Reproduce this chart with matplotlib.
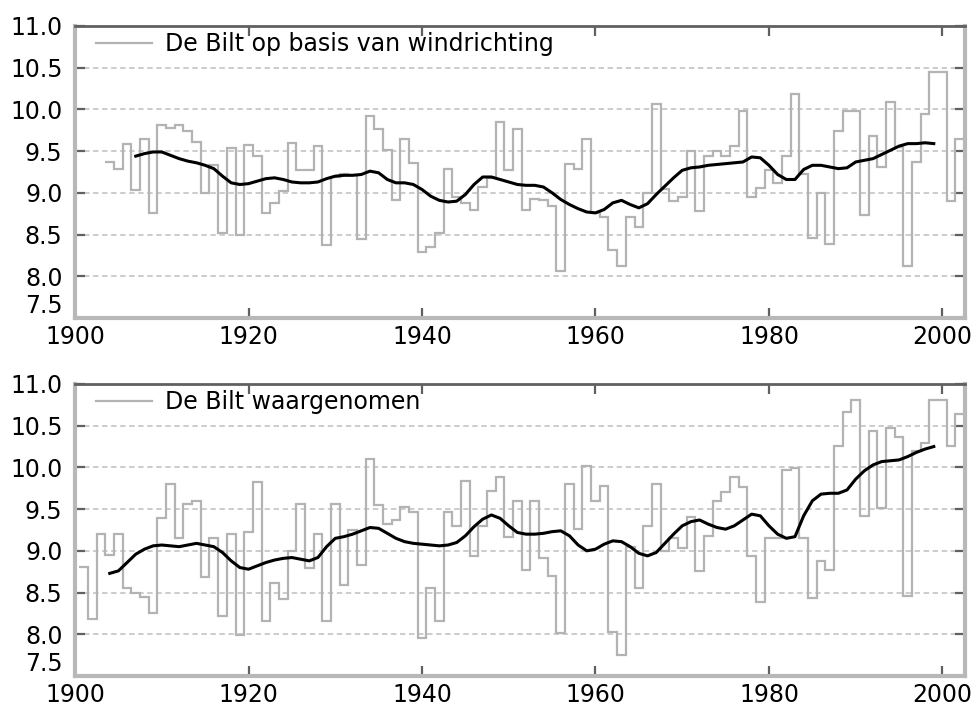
import matplotlib
matplotlib.use("Agg")
import matplotlib.pyplot as plt
from matplotlib.lines import Line2D
import numpy as np

# --- data (annual mean temperature De Bilt, degC) ---
years_wind = np.arange(1904, 2003)
temp_wind = [
    9.37, 9.28, 9.58, 9.04, 9.64, 8.76, 9.81, 9.78, 9.81, 9.74,   # 1904-1913
    9.61, 9.00, 9.33, 8.52, 9.54, 8.50, 9.57, 9.44, 8.76, 8.88,   # 1914-1923
    9.02, 9.60, 9.27, 9.27, 9.56, 8.37, 9.19, 9.22, 9.21, 8.45,   # 1924-1933
    9.92, 9.76, 9.51, 8.92, 9.64, 9.36, 8.29, 8.35, 8.52, 9.28,   # 1934-1943
    8.95, 8.88, 8.79, 9.07, 9.18, 9.85, 9.27, 9.77, 8.79, 8.93,   # 1944-1953
    8.91, 8.84, 8.06, 9.35, 9.28, 9.64, 8.76, 8.71, 8.31, 8.12,   # 1954-1963
    8.71, 8.59, 9.00, 10.06, 9.05, 8.90, 8.95, 9.50, 8.78, 9.44,  # 1964-1973
    9.50, 9.44, 9.56, 9.98, 8.95, 9.06, 9.27, 9.12, 9.44, 10.18,  # 1974-1983
    9.22, 8.46, 9.00, 8.39, 9.74, 9.98, 9.98, 8.73, 9.68, 9.31,   # 1984-1993
    10.09, 9.55, 8.12, 9.37, 9.95, 10.45, 10.45, 8.90, 9.64,      # 1994-2002
]
smooth_years_wind = np.arange(1907, 2000)
smooth_wind = [
    9.44, 9.47, 9.49, 9.49, 9.45, 9.41, 9.38, 9.36, 9.33, 9.29,   # 1907-1916
    9.20, 9.12, 9.10, 9.11, 9.14, 9.17, 9.18, 9.16, 9.13, 9.12,   # 1917-1926
    9.12, 9.13, 9.17, 9.20, 9.21, 9.21, 9.22, 9.26, 9.24, 9.16,   # 1927-1936
    9.12, 9.12, 9.10, 9.04, 8.96, 8.91, 8.89, 8.90, 8.98, 9.10,   # 1937-1946
    9.19, 9.19, 9.16, 9.13, 9.10, 9.09, 9.09, 9.07, 9.00, 8.92,   # 1947-1956
    8.86, 8.81, 8.77, 8.76, 8.80, 8.88, 8.91, 8.86, 8.82, 8.87,   # 1957-1966
    8.98, 9.08, 9.18, 9.27, 9.30, 9.31, 9.33, 9.34, 9.35, 9.36,   # 1967-1976
    9.37, 9.43, 9.42, 9.33, 9.22, 9.16, 9.16, 9.28, 9.33, 9.33,   # 1977-1986
    9.31, 9.29, 9.30, 9.37, 9.39, 9.41, 9.46, 9.51, 9.56, 9.59,   # 1987-1996
    9.59, 9.60, 9.59,                                             # 1997-1999
]

years_obs = np.arange(1901, 2003)
temp_obs = [
    8.81, 8.18, 9.20, 8.95, 9.20, 8.55, 8.50, 8.45, 8.25,         # 1901-1909
    9.39, 9.80, 9.15, 9.56, 9.60, 8.69, 9.16, 8.22, 9.20, 7.99,   # 1910-1919
    9.22, 9.82, 8.16, 8.62, 8.42, 9.00, 9.56, 8.80, 9.20, 8.16,   # 1920-1929
    9.56, 8.59, 9.25, 8.83, 10.10, 9.55, 9.32, 9.37, 9.53, 9.46,  # 1930-1939
    7.95, 8.55, 8.16, 9.47, 9.30, 9.84, 8.94, 9.30, 9.72, 9.88,   # 1940-1949
    9.17, 9.60, 8.77, 9.60, 8.92, 8.70, 8.01, 9.80, 9.26, 10.02,  # 1950-1959
    9.60, 9.78, 8.03, 7.75, 9.05, 8.55, 9.30, 9.80, 9.00, 9.15,   # 1960-1969
    9.04, 9.40, 8.76, 9.18, 9.60, 9.70, 9.89, 9.76, 8.94, 8.39,   # 1970-1979
    9.15, 9.15, 9.97, 9.99, 9.15, 8.43, 8.88, 8.77, 10.26, 10.67, # 1980-1989
    10.81, 9.42, 10.44, 9.51, 10.47, 10.37, 8.46, 10.20, 10.29, 10.81,  # 1990-1999
    10.81, 10.26, 10.64,                                          # 2000-2002
]
smooth_years_obs = np.arange(1904, 2000)
smooth_obs = [
    8.73, 8.76, 8.86, 8.96, 9.02, 9.06,                           # 1904-1909
    9.07, 9.06, 9.05, 9.07, 9.09, 9.07, 9.05, 8.98, 8.88, 8.80,   # 1910-1919
    8.78, 8.82, 8.86, 8.89, 8.91, 8.92, 8.90, 8.88, 8.92, 9.05,   # 1920-1929
    9.15, 9.17, 9.20, 9.24, 9.28, 9.27, 9.21, 9.15, 9.11, 9.09,   # 1930-1939
    9.08, 9.07, 9.06, 9.07, 9.10, 9.18, 9.29, 9.38, 9.43, 9.39,   # 1940-1949
    9.30, 9.22, 9.20, 9.20, 9.21, 9.23, 9.24, 9.18, 9.07, 9.00,   # 1950-1959
    9.02, 9.08, 9.12, 9.11, 9.05, 8.97, 8.94, 8.98, 9.09, 9.20,   # 1960-1969
    9.30, 9.35, 9.37, 9.32, 9.28, 9.26, 9.30, 9.37, 9.44, 9.42,   # 1970-1979
    9.30, 9.20, 9.15, 9.17, 9.42, 9.60, 9.68, 9.69, 9.69, 9.73,   # 1980-1989
    9.86, 9.96, 10.03, 10.07, 10.08, 10.09, 10.13, 10.18, 10.22, 10.25,  # 1990-1999
]

labels = ["De Bilt op basis van windrichting", "De Bilt waargenomen"]
xticks = np.arange(1900, 2001, 20)
yticks = np.arange(7.5, 11.01, 0.5)

plt.rcParams["font.family"] = "DejaVu Sans"
plt.rcParams["font.size"] = 17

fig = plt.figure(figsize=(9.72, 7.06), dpi=100)
ax_top = fig.add_axes([0.0772, 0.5496, 0.9156, 0.4136])
ax_bot = fig.add_axes([0.0772, 0.0425, 0.9156, 0.4136])

panels = [
    (ax_top, years_wind, temp_wind, smooth_years_wind, smooth_wind, labels[0]),
    (ax_bot, years_obs, temp_obs, smooth_years_obs, smooth_obs, labels[1]),
]

for ax, yrs, vals, syrs, svals, lab in panels:
    edges = np.append(yrs - 0.5, yrs[-1] + 0.5)
    ax.stairs(vals, edges, baseline=None, color="#b3b3b3", lw=1.6, zorder=2)
    ax.plot(syrs, svals, color="black", lw=2.2, zorder=3)

    ax.set_xlim(1900, 2002.6)
    ax.set_ylim(7.5, 11.0)
    ax.set_xticks(xticks)
    ax.set_yticks(yticks)
    ax.set_yticklabels([f"{v:.1f}" for v in yticks])
    for y in yticks[1:-1]:
        ax.axhline(y, color="#c8c8c8", lw=1.3, ls=(0, (3, 2)), zorder=1)

    ax.tick_params(direction="in", top=True, right=True, length=7, width=1.6,
                   color="#606060", labelsize=17, labelcolor="black")
    ax.tick_params(axis="x", pad=5)
    ax.tick_params(axis="y", pad=9)
    # lift the lowest y label a little so it does not sit on the "1900" label
    ax.get_yticklabels()[0].set_verticalalignment("bottom")

    for side in ["left", "bottom", "right"]:
        ax.spines[side].set_color("#b8b8b8")
        ax.spines[side].set_linewidth(3)
    ax.spines["top"].set_color("#606060")
    ax.spines["top"].set_linewidth(2)

    handle = Line2D([], [], color="#b3b3b3", lw=1.6)
    ax.legend([handle], [lab], loc="upper left", frameon=False, fontsize=17,
              handlelength=2.4, handletextpad=0.55, borderaxespad=0.1,
              bbox_to_anchor=(0.01, 1.02))

fig.savefig("out.png", dpi=100)
